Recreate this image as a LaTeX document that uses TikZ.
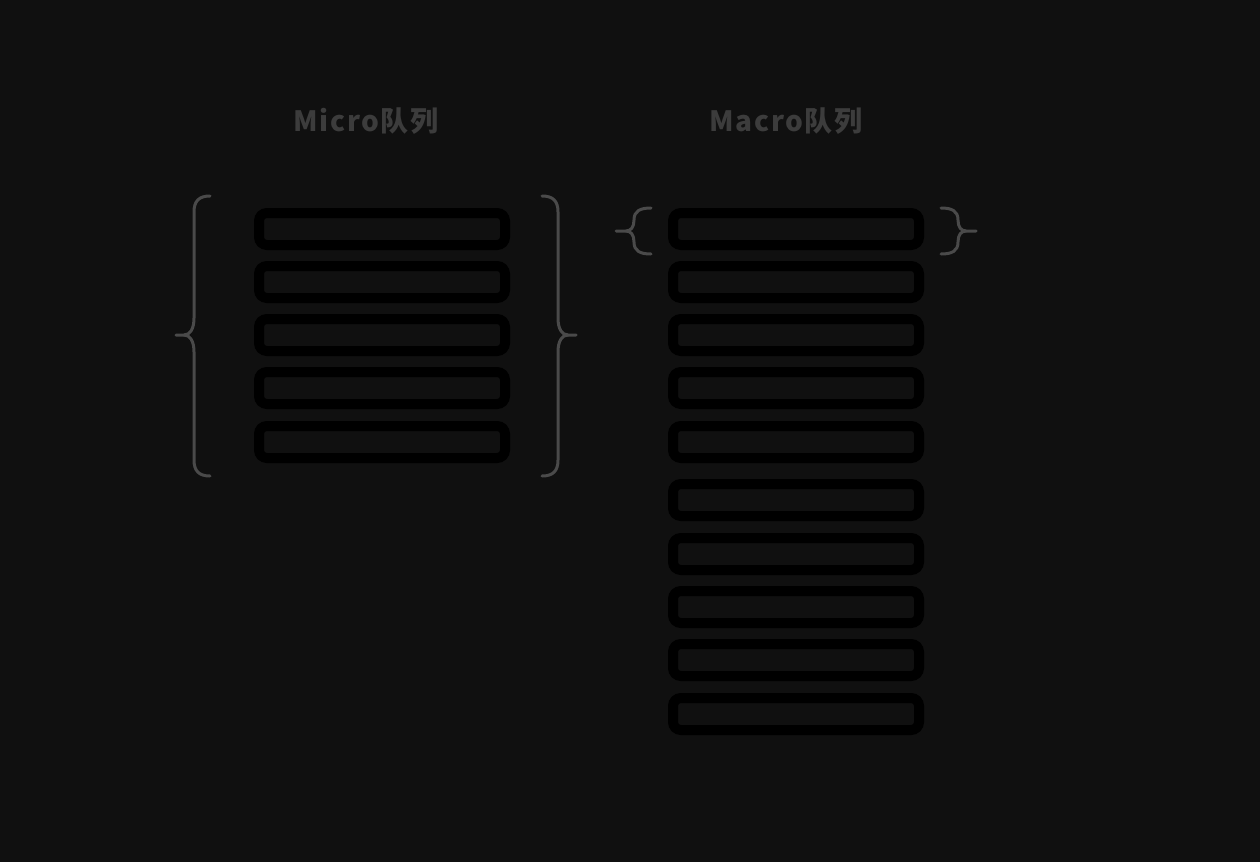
\documentclass[tikz,border=0pt]{standalone}
\usepackage{fontspec}
\newfontfamily\cjk[LetterSpace=6]{Noto Sans CJK SC}
\definecolor{canvas}{RGB}{16, 16, 16}
\definecolor{caption}{RGB}{60, 60, 60}
\definecolor{bracket}{RGB}{74, 74, 74}
\usepackage{tikz}
\usetikzlibrary{positioning}
\tikzset{
    title/.style={font=\cjk\bfseries\fontsize{28}{32}\selectfont, text=caption, inner sep=0pt},
    slot/.style={rectangle, rounded corners=8pt, minimum width=246pt, minimum height=32pt, inner sep=0pt, draw=black, line width=10pt, fill=canvas},
    bracketline/.style={draw=bracket, line width=3pt, line cap=round}
}
\begin{document}
\begin{tikzpicture}[x=1pt, y=-1pt]
        % Canvas
        \fill[canvas] (0,0) rectangle (1260,862);
        \useasboundingbox (0,0) rectangle (1260,862);

        % Queue titles
        \node[title] (microtitle) at (366, 121) {Micro队列};
        \node[title] (macrotitle) at (786, 121) {Macro队列};

        % Micro queue slots
        \node[slot] (mi1) at (382, 229) {};
        \node[slot] (mi2) at (382, 282) {};
        \node[slot] (mi3) at (382, 335) {};
        \node[slot] (mi4) at (382, 388) {};
        \node[slot] (mi5) at (382, 442) {};

        % Macro queue slots
        \node[slot] (ma1) at (796, 229) {};
        \node[slot] (ma2) at (796, 282) {};
        \node[slot] (ma3) at (796, 335) {};
        \node[slot] (ma4) at (796, 388) {};
        \node[slot] (ma5) at (796, 442) {};
        \node[slot] (ma6) at (796, 500) {};
        \node[slot] (ma7) at (796, 554) {};
        \node[slot] (ma8) at (796, 607) {};
        \node[slot] (ma9) at (796, 660) {};
        \node[slot] (ma10) at (796, 714) {};

        % Braces round the micro queue
        \draw[bracketline] (210,196) .. controls (199,196) and (194,201) .. (194,212) -- (194,318)
            .. controls (194,329) and (190,335) .. (184,335) -- (176,335);
        \draw[bracketline] (184,335) .. controls (190,335) and (194,341) .. (194,352) -- (194,460)
            .. controls (194,471) and (199,476) .. (210,476);
        \draw[bracketline] (542,196) .. controls (553,196) and (558,201) .. (558,212) -- (558,318)
            .. controls (558,329) and (562,335) .. (568,335) -- (576,335);
        \draw[bracketline] (568,335) .. controls (562,335) and (558,341) .. (558,352) -- (558,460)
            .. controls (558,471) and (553,476) .. (542,476);

        % Braces round the first macro slot
        \draw[bracketline] (651,208) .. controls (640,208) and (634,211) .. (634,220)
            .. controls (634,227) and (631,231) .. (626,231) -- (616,231);
        \draw[bracketline] (626,231) .. controls (631,231) and (634,235) .. (634,242)
            .. controls (634,251) and (640,254) .. (651,254);
        \draw[bracketline] (941,208) .. controls (952,208) and (958,211) .. (958,220)
            .. controls (958,227) and (961,231) .. (966,231) -- (976,231);
        \draw[bracketline] (966,231) .. controls (961,231) and (958,235) .. (958,242)
            .. controls (958,251) and (952,254) .. (941,254);
\end{tikzpicture}
\end{document}
